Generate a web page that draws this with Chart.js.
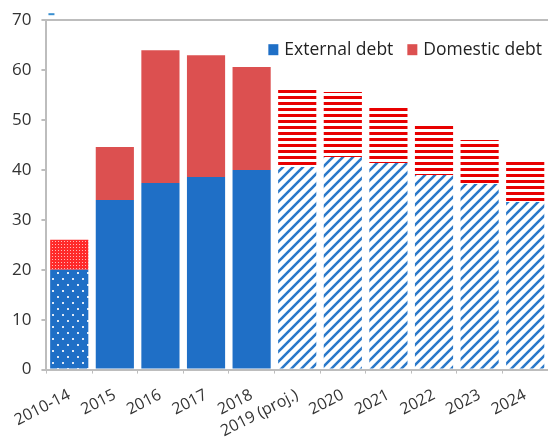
<!DOCTYPE html>
<html>
<head>
<meta charset="utf-8">
<script src="https://cdn.jsdelivr.net/npm/chart.js@4.4.0/dist/chart.umd.min.js"></script>
<style>
html, body { margin: 0; padding: 0; background: #fff; }
#wrap { width: 548px; height: 445px; }
</style>
</head>
<body>
<div id="wrap"><canvas id="debtChart"></canvas></div>
<script>
'use strict';
let years = ['2010-14', '2015', '2016', '2017', '2018', '2019 (proj.)', '2020', '2021', '2022', '2023', '2024'];
let externalDebt = [20, 34, 37.4, 38.6, 40, 40.6, 42.6, 41.4, 39, 37.2, 33.6];
let domesticDebt = [6, 10.6, 26.6, 24.4, 20.6, 15.6, 13, 11, 10.4, 8.8, 8.4];
let yTicks = [0, 10, 20, 30, 40, 50, 60, 70];
let legendNames = ['External debt', 'Domestic debt'];

let blue = '#1f6fc6';
let red = '#dc5050';

function makePattern(w, h, draw) {
  let c = document.createElement('canvas');
  c.width = w;
  c.height = h;
  let g = c.getContext('2d');
  draw(g);
  return g.createPattern(c, 'repeat');
}

// dotted blue for 2010-14
let blueDots = makePattern(10, 12, function (g) {
  g.fillStyle = blue;
  g.fillRect(0, 0, 10, 12);
  g.fillStyle = 'rgba(255,255,255,0.85)';
  g.fillRect(2, 2, 2, 2);
  g.fillRect(7, 8, 2, 2);
});
// fine dotted red
let redDots = makePattern(3, 3, function (g) {
  g.fillStyle = '#ff2a2a';
  g.fillRect(0, 0, 3, 3);
  g.fillStyle = 'rgba(255,200,200,0.9)';
  g.fillRect(1, 1, 1, 1);
});
// diagonal blue stripes for projections
let blueStripes = makePattern(10, 10, function (g) {
  g.fillStyle = '#fff';
  g.fillRect(0, 0, 10, 10);
  g.strokeStyle = '#2a78c9';
  g.lineWidth = 2.6;
  g.beginPath();
  g.moveTo(-2, 12); g.lineTo(12, -2);
  g.moveTo(-7, 7); g.lineTo(7, -7);
  g.moveTo(3, 17); g.lineTo(17, 3);
  g.stroke();
});
// horizontal red stripes
let redStripes = makePattern(6, 6, function (g) {
  g.fillStyle = '#fff';
  g.fillRect(0, 0, 6, 6);
  g.fillStyle = '#e80000';
  g.fillRect(0, 0, 6, 3);
});

let extColors = [];
let domColors = [];
for (let i = 0; i < years.length; i++) {
  if (i === 0) {
    extColors.push(blueDots);
    domColors.push(redDots);
  } else if (i < 5) {
    extColors.push(blue);
    domColors.push(red);
  } else {
    extColors.push(blueStripes);
    domColors.push(redStripes);
  }
}

// legend drawn inside the plot, top right
let insideLegend = {
  id: 'insideLegend',
  afterDraw: function (chart) {
    let ctx = chart.ctx;
    let area = chart.chartArea;
    ctx.save();
    ctx.font = '17.5px "Open Sans"';
    ctx.textBaseline = 'middle';
    let y = area.top + 30;
    let x = area.right - 6;
    let cols = [blue, red];
    for (let i = legendNames.length - 1; i >= 0; i--) {
      let w = ctx.measureText(legendNames[i]).width;
      x -= w;
      ctx.fillStyle = '#222';
      ctx.fillText(legendNames[i], x, y);
      x -= 16;
      ctx.fillStyle = cols[i];
      ctx.fillRect(x, y - 6, 10, 11);
      x -= 14;
    }
    // small blue mark above the axis
    ctx.fillStyle = '#3a8fd0';
    ctx.fillRect(area.left + 2, area.top - 7, 6, 2);
    ctx.restore();
  }
};

let context = document.getElementById('debtChart').getContext('2d');
let chart = new Chart(context, {
  type: 'bar',
  data: {
    labels: years,
    datasets: [{
      label: legendNames[0],
      data: externalDebt,
      backgroundColor: extColors,
      barPercentage: 0.9,
      categoryPercentage: 0.93
    }, {
      label: legendNames[1],
      data: domesticDebt,
      backgroundColor: domColors,
      barPercentage: 0.9,
      categoryPercentage: 0.93
    }]
  },
  options: {
    responsive: true,
    maintainAspectRatio: false,
    animation: false,
    layout: { padding: { top: 8, right: 0, left: 2, bottom: -8 } },
    plugins: {
      tooltip: { enabled: false },
      legend: { display: false }
    },
    scales: {
      x: {
        stacked: true,
        grid: {
          offset: true,
          drawOnChartArea: false,
          tickLength: 4,
          color: '#bdbdbd'
        },
        border: { color: '#bdbdbd', width: 2 },
        ticks: {
          autoSkip: false,
          minRotation: 27,
          maxRotation: 27,
          color: '#333',
          padding: 12,
          font: { family: 'Open Sans', size: 16 }
        }
      },
      y: {
        stacked: true,
        min: 0,
        max: 70,
        afterBuildTicks: function (axis) {
          axis.ticks = yTicks.map(function (v) { return { value: v }; });
        },
        grid: {
          tickLength: 5,
          tickColor: '#bdbdbd',
          color: function (c) { return c.tick && c.tick.value === 70 ? '#bdbdbd' : 'rgba(0,0,0,0)'; },
          lineWidth: 2
        },
        border: { color: '#bdbdbd', width: 2 },
        ticks: {
          color: '#333',
          padding: 10,
          font: { family: 'Open Sans', size: 17 }
        }
      }
    }
  },
  plugins: [insideLegend]
});
</script>
</body>
</html>
